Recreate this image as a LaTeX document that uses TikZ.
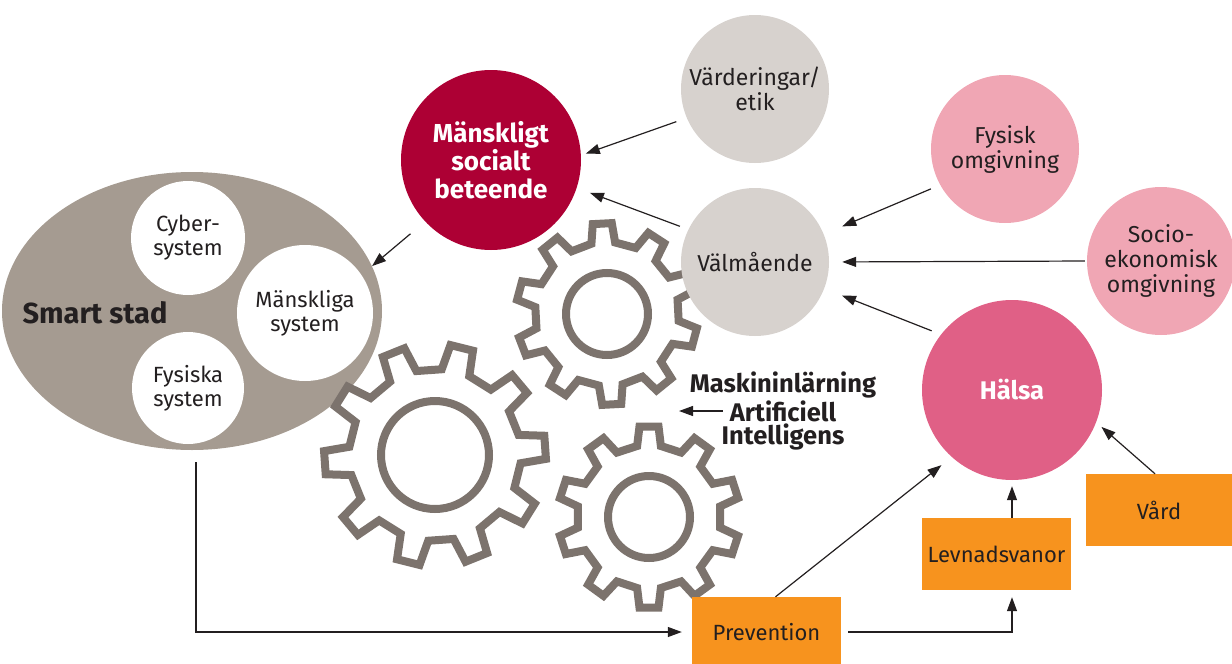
\documentclass[tikz,border=0pt]{standalone}
\usepackage{fontspec}
\setmainfont{Fira Sans}
\usetikzlibrary{arrows.meta,positioning,shapes.geometric}

\definecolor{txt}{HTML}{231F20}
\definecolor{crimson}{HTML}{AD0034}
\definecolor{stone}{HTML}{D7D2CE}
\definecolor{rose}{HTML}{F0A6B4}
\definecolor{health}{HTML}{E06086}
\definecolor{city}{HTML}{A59B91}
\definecolor{cog}{HTML}{7C736D}
\definecolor{orange}{HTML}{F7931E}

\tikzset{
  bubble/.style={circle, inner sep=0pt, align=center, text=txt,
    font=\fontsize{23}{25}\selectfont},
  box/.style={fill=orange, inner sep=0pt, text=txt,
    font=\fontsize{22}{24}\selectfont},
  arr/.style={draw=txt, line width=1.2pt, -{Triangle[length=14pt,width=10pt]}},
  gearline/.style={draw=cog, line width=8pt, line join=miter, fill=white}
}

% cog wheel: centre x, centre y, tip radius, root radius, ring radius, offset
\newcommand{\cogwheel}[6]{%
  \draw[gearline] ([shift={(#1,#2)}]#6-9.5:#4)
    \foreach \t in {0,36,...,324}{
      -- ([shift={(#1,#2)}]#6+\t-9.5:#4) -- ([shift={(#1,#2)}]#6+\t-6:#3)
      -- ([shift={(#1,#2)}]#6+\t+6:#3) -- ([shift={(#1,#2)}]#6+\t+9.5:#4)
    } -- cycle;
  \draw[gearline, fill=none] (#1,#2) circle[radius=#5];
}

\begin{document}
\begin{tikzpicture}[x=1pt,y=-1pt]
\useasboundingbox (0,0) rectangle (1232,664);

%----smart stad----%
\node[ellipse, fill=city, minimum width=380, minimum height=278, inner sep=0pt] (city) at (192,311) {};
\node[bubble, fill=white, minimum size=114, font=\fontsize{22}{24}\selectfont] (cyber) at (188,238) {Cyber-\\system};
\node[bubble, fill=white, minimum size=136, font=\fontsize{22}{24}\selectfont] (human) at (305,313) {Mänskliga\\system};
\node[bubble, fill=white, minimum size=112, font=\fontsize{22}{24}\selectfont] (phys) at (188,388) {Fysiska\\system};
\node[text=txt, font=\bfseries\fontsize{29}{30}\selectfont] (smart) at (95,313) {Smart stad};

%----gears----%
\cogwheel{435}{455}{111}{86}{54}{-4}
\cogwheel{607}{314}{91}{72}{41}{-21}
\cogwheel{649}{517}{91}{72}{41}{-18}

%----circles----%
\node[bubble, fill=crimson, minimum size=180, text=white, font=\bfseries\fontsize{26}{28}\selectfont] (social) at (491,160) {Mänskligt\\socialt\\beteende};
\node[bubble, fill=stone, minimum size=148] (values) at (755,89) {Värderingar/\\etik};
\node[bubble, fill=stone, minimum size=148] (wellbeing) at (755,262) {Välmående};
\node[bubble, fill=rose, minimum size=148] (physenv) at (1005,149) {Fysisk\\omgivning};
\node[bubble, fill=rose, minimum size=148] (socioenv) at (1161,261) {Socio-\\ekonomisk\\omgivning};
\node[bubble, fill=health, minimum size=180, text=white, font=\bfseries\fontsize{25.5}{28}\selectfont] (health) at (1012,390) {Hälsa};

%----boxes----%
\node[box, minimum width=149, minimum height=70] (prev) at (766.5,632) {Prevention};
\node[box, minimum width=149, minimum height=72] (habits) at (996.5,554) {Levnadsvanor};
\node[box, minimum width=146, minimum height=72] (care) at (1159,510) {Vård};

%----ai----%
\node[text=txt, inner sep=1pt, font=\bfseries\fontsize{25.5}{26}\selectfont] (ai) at (783,411) {Artificiell};
\node[text=txt, inner sep=1pt, font=\bfseries\fontsize{25.5}{26}\selectfont] (ml) at (783,385) {Maskininlärning};
\node[text=txt, inner sep=1pt, font=\bfseries\fontsize{25.5}{26}\selectfont] (intel) at (783,437) {Intelligens};
\coordinate (gears) at (679,411);

%----arrows----%
\draw[arr, shorten <=11pt, shorten >=5pt] (values.203.5) -- (social.3.6);
\draw[arr, shorten <=9pt, shorten >=14pt] (wellbeing.154.4) -- (social.-18.4);
\draw[arr, shorten <=19pt] (social.223.5) -- (city.14.6);
\draw[arr, shorten <=10pt, shorten >=20pt] (physenv.209.7) -- (wellbeing.22.5);
\draw[arr, shorten <=2pt, shorten >=13pt] (socioenv.180) -- (wellbeing.0);
\draw[arr, shorten <=10pt, shorten >=19pt] (health.142) -- (wellbeing.-21);
\draw[arr, shorten >=7pt] ([xshift=-4pt]care.north) -- (health.-21);
\draw[arr, shorten >=6pt] (habits.north -| health) -- (health.south);
\draw[arr, shorten >=13pt] ([xshift=9pt]prev.north) -- (health.228);
\draw[arr, shorten <=7pt, shorten >=7pt] (prev.east) -| (habits.south -| health);
\draw[arr, shorten <=12pt, shorten >=10pt] ([xshift=4pt]city.south) |- (prev.west);
\draw[arr, shorten <=6pt] (ai.west) -- (gears);
\end{tikzpicture}
\end{document}
